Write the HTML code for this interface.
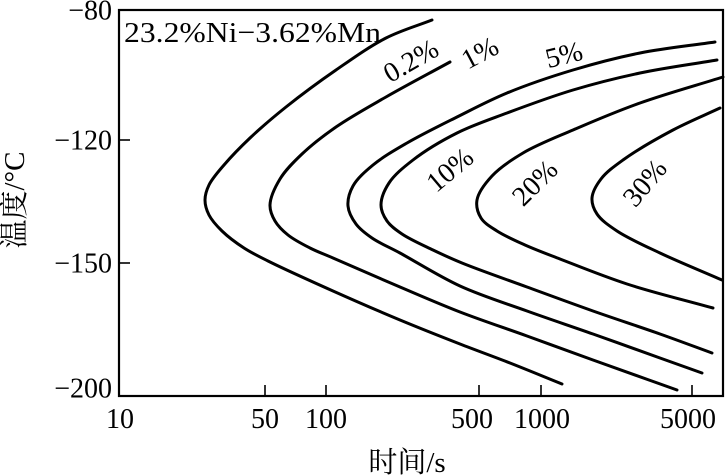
<!DOCTYPE html>
<html>
<head>
<meta charset="utf-8">
<style>
  html,body{margin:0;padding:0;background:#fff;}
  svg{display:block;}
  text{font-family:"Liberation Serif","Noto Serif CJK SC","Noto Sans CJK SC",serif;fill:#000;}
</style>
</head>
<body>
<svg id="chart" width="728" height="476" viewBox="0 0 728 476" xmlns="http://www.w3.org/2000/svg">
  <rect x="0" y="0" width="728" height="476" fill="#fff"/>
  <!-- frame -->
  <rect x="119" y="10" width="604" height="386" fill="none" stroke="#000" stroke-width="2.2"/>
  <!-- y ticks -->
  <line x1="119" y1="140" x2="130" y2="140" stroke="#000" stroke-width="1.6"/>
  <line x1="119" y1="263" x2="130" y2="263" stroke="#000" stroke-width="1.6"/>
  <!-- x ticks -->
  <line x1="265" y1="396" x2="265" y2="385" stroke="#000" stroke-width="1.6"/>
  <line x1="326" y1="396" x2="326" y2="385" stroke="#000" stroke-width="1.6"/>
  <line x1="479" y1="396" x2="479" y2="385" stroke="#000" stroke-width="1.6"/>
  <line x1="541" y1="396" x2="541" y2="385" stroke="#000" stroke-width="1.6"/>
  <line x1="692" y1="396" x2="692" y2="385" stroke="#000" stroke-width="1.6"/>

  <!-- y tick labels -->
  <g font-size="28" text-anchor="end">
    <text x="112" y="19.5">−80</text>
    <text x="112" y="149.5">−120</text>
    <text x="112" y="272.5">−150</text>
    <text x="112" y="397.5">−200</text>
  </g>
  <!-- x tick labels -->
  <g font-size="28" text-anchor="middle">
    <text x="120" y="428">10</text>
    <text x="265" y="428">50</text>
    <text x="326" y="428">100</text>
    <text x="472" y="428">500</text>
    <text x="542" y="428">1000</text>
    <text x="688" y="428">5000</text>
  </g>

  <!-- axis titles -->
  <text x="407" y="472" font-size="29" text-anchor="middle">时间/s</text>
  <text transform="translate(24,200) rotate(-90)" font-size="29" text-anchor="middle">温度/°C</text>

  <!-- composition -->
  <text x="124" y="42" font-size="29" textLength="257" lengthAdjust="spacingAndGlyphs">23.2%Ni−3.62%Mn</text>

  <!-- curves -->
  <g fill="none" stroke="#000" stroke-width="3" stroke-linecap="round" stroke-linejoin="round">
    <path id="cA" d="M432,20 L386,38 L336,70 L286,107 L250,138 L224,165 L209,185 L205,200 L209,215 L222,231 L244,248 L268,261 L333,291 L400,320 L460,344 L510,363 L562,384"/>
    <path id="cB" d="M450,62 L386,97 L336,127 L302,154 L280,179 L270,205 L275,221 L288,235 L310,248 L333,258 L400,287 L460,312 L527,336 L593,360 L677,390"/>
    <path id="cC" d="M715,42 L640,53 L573,70 L507,93 L457,117 L407,143 L373,165 L353,186 L348,206 L356,224 L372,238 L400,253 L460,286 L527,311 L593,334 L660,358 L702,373"/>
    <path id="cD" d="M717,60 L640,73 L573,90 L507,113 L457,133 L413,160 L389,183 L381,205 L387,221 L402,234 L433,250 L462,263 L527,287 L593,311 L660,334 L712,353"/>
    <path id="cE" d="M723,77 L640,103 L573,130 L523,153 L492,176 L477,200 L481,218 L497,231 L525,245 L560,259 L627,284 L713,308"/>
    <path id="cF" d="M720,108 L673,130 L623,160 L601,179 L592,198 L597,214 L617,231 L660,253 L722,280"/>
  </g>

  <!-- curve labels -->
  <g font-size="28" text-anchor="middle">
    <text transform="translate(411,61) rotate(-30)" dy="9">0.2%</text>
    <text transform="translate(480,53) rotate(-28)" dy="9">1%</text>
    <text transform="translate(564,55) rotate(-14)" dy="9">5%</text>
    <text transform="translate(450,170) rotate(-40)" dy="9">10%</text>
    <text transform="translate(535,183) rotate(-45)" dy="9">20%</text>
    <text transform="translate(645,183) rotate(-50)" dy="9">30%</text>
  </g>
</svg>
<script>
(function(){
  function dist(a,b){var dx=a[0]-b[0],dy=a[1]-b[1];return Math.sqrt(dx*dx+dy*dy);}
  var ids=["cA","cB","cC","cD","cE","cF"];
  ids.forEach(function(id){
    var el=document.getElementById(id);
    var d=el.getAttribute("d");
    var nums=d.match(/-?\d+(\.\d+)?/g).map(Number);
    var p=[];
    for(var i=0;i<nums.length;i+=2)p.push([nums[i],nums[i+1]]);
    var n=p.length;
    var first=[2*p[0][0]-p[1][0],2*p[0][1]-p[1][1]];
    var last=[2*p[n-1][0]-p[n-2][0],2*p[n-1][1]-p[n-2][1]];
    var q=[first].concat(p).concat([last]);
    var s="M"+p[0][0]+","+p[0][1];
    for(var i=1;i<q.length-2;i++){
      var p0=q[i-1],p1=q[i],p2=q[i+1],p3=q[i+2];
      var a=0.5;
      var d1=Math.pow(dist(p0,p1),a),d2=Math.pow(dist(p1,p2),a),d3=Math.pow(dist(p2,p3),a);
      var c1=[],c2=[];
      for(var k=0;k<2;k++){
        c1[k]=(d1*d1*p2[k]-d2*d2*p0[k]+(2*d1*d1+3*d1*d2+d2*d2)*p1[k])/(3*d1*(d1+d2));
        c2[k]=(d3*d3*p1[k]-d2*d2*p3[k]+(2*d3*d3+3*d3*d2+d2*d2)*p2[k])/(3*d3*(d3+d2));
      }
      s+=" C"+c1[0].toFixed(2)+","+c1[1].toFixed(2)+" "+c2[0].toFixed(2)+","+c2[1].toFixed(2)+" "+p2[0]+","+p2[1];
    }
    el.setAttribute("d",s);
  });
})();
</script>
</body>
</html>
